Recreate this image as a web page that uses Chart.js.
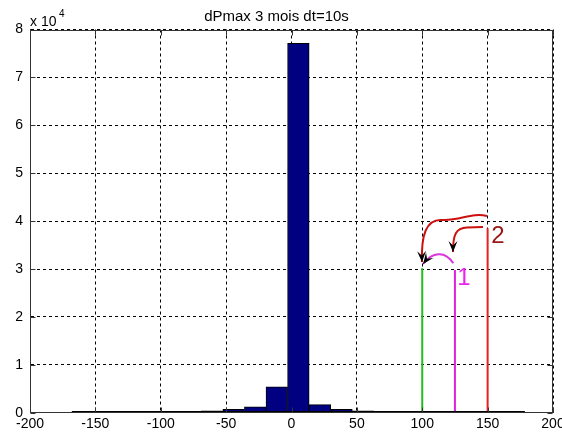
<!DOCTYPE html>
<html><head><meta charset="utf-8">
<script src="https://cdn.jsdelivr.net/npm/chart.js@4/dist/chart.umd.min.js"></script>
<style>html,body{margin:0;padding:0;background:#fff;overflow:hidden}</style>
</head><body>
<canvas id="c" width="562" height="437"></canvas>
<script>
// ---- data ----
const binCenters = [-159.75,-143.25,-126.75,-110.25,-93.75,-77.25,-60.75,-44.25,-27.75,-11.25,5.25,21.75,38.25,54.75,71.25,87.75,104.25,120.75,137.25,153.75,170.25];
const binCounts  = [60,40,50,70,100,180,400,700,1200,5400,77100,1700,700,400,180,110,80,60,50,40,60];
const xTickStep = 50;
const yTickStep = 10000;
const titleText = 'dPmax 3 mois dt=10s';
const markerX    = [100, 125, 150];
const markerTop  = [30150, 29800, 38500];
const markerColors = ['#22bb22', '#dd22dd', '#e82020'];

// annotation paths (data units): start point then cubic segments [c1, c2, end]
const arrowPaths = [
  { color:'#dd33dd', start:[123.75,31190], segs:[[[117.4,33966],[107.5,33549],[100.6,31044]]] },
  { color:'#cc1111', start:[149.5,41066], segs:[[[138.0,41901],[128.9,40022],[115.1,40230]],[[102.9,40439],[99.1,37099],[99.8,31462]]] },
  { color:'#cc1111', start:[146.5,38769], segs:[[[140,38700],[134.2,38665],[134.2,38665]],[[125.8,38560],[123.5,37307],[123.5,33550]]] }
];
const annoLabels = [
  { text:'1', x:131.9, y:28101, color:'#ee22ee' },
  { text:'2', x:157.9, y:36744, color:'#991515' }
];

const FONT = 'Liberation Sans, Arial, sans-serif';

const barData = binCenters.map((x,i)=>({x, y: binCounts[i]}));
const markerSets = markerX.map((x,i)=>({
  type:'line', data:[{x, y:0},{x, y:markerTop[i]}],
  borderColor: markerColors[i], borderWidth:2, pointRadius:0, fill:false, tension:0
}));

const decor = {
  id:'decor',
  afterDatasetsDraw(chart){
    const ctx = chart.ctx, xs = chart.scales.x, ys = chart.scales.y;
    const P = (p)=>[xs.getPixelForValue(p[0]), ys.getPixelForValue(p[1])];
    ctx.save();
    // dark baseline under the histogram's thin tail bins
    const b0 = binCenters[0] - (binCenters[1]-binCenters[0])/2;
    const b1 = binCenters[binCenters.length-1] + (binCenters[1]-binCenters[0])/2;
    ctx.strokeStyle='#000'; ctx.lineWidth=1.5;
    ctx.beginPath();
    const yb = ys.getPixelForValue(0)-1;
    ctx.moveTo(xs.getPixelForValue(b0), yb); ctx.lineTo(xs.getPixelForValue(b1), yb); ctx.stroke();
    // arrows
    arrowPaths.forEach(ap=>{
      ctx.beginPath();
      let s = P(ap.start); ctx.moveTo(s[0], s[1]);
      let lastC = s, end = s;
      ap.segs.forEach(sg=>{
        const c1=P(sg[0]), c2=P(sg[1]), e=P(sg[2]);
        ctx.bezierCurveTo(c1[0],c1[1],c2[0],c2[1],e[0],e[1]);
        lastC = c2; end = e;
      });
      ctx.strokeStyle = ap.color; ctx.lineWidth = 2; ctx.stroke();
      let dx = end[0]-lastC[0], dy = end[1]-lastC[1];
      const len = Math.hypot(dx,dy)||1; dx/=len; dy/=len;
      const nx=-dy, ny=dx, L=11, W=4.5;
      ctx.beginPath();
      ctx.moveTo(end[0],end[1]);
      ctx.lineTo(end[0]-L*dx+W*nx, end[1]-L*dy+W*ny);
      ctx.lineTo(end[0]-0.6*L*dx, end[1]-0.6*L*dy);
      ctx.lineTo(end[0]-L*dx-W*nx, end[1]-L*dy-W*ny);
      ctx.closePath(); ctx.fillStyle='#000'; ctx.fill();
    });
    annoLabels.forEach(l=>{
      const p = P([l.x,l.y]);
      ctx.fillStyle = l.color; ctx.font = '24px '+FONT;
      ctx.textAlign='center'; ctx.textBaseline='middle';
      ctx.fillText(l.text, p[0], p[1]);
    });
    ctx.restore();
  },
  afterDraw(chart){
    const ctx = chart.ctx, a = chart.chartArea, xs = chart.scales.x, ys = chart.scales.y;
    ctx.save();
    ctx.strokeStyle = '#333'; ctx.lineWidth = 1;
    const L = Math.round(a.left)+0.5, R = Math.round(a.right)-0.5, T = Math.round(a.top)+0.5, B = Math.round(a.bottom)-0.5;
    ctx.strokeRect(L, T, R-L, B-T);
    ctx.beginPath();
    xs.ticks.forEach(t=>{ const x = Math.round(xs.getPixelForValue(t.value))+0.5;
      ctx.moveTo(x,T); ctx.lineTo(x,T+5); ctx.moveTo(x,B); ctx.lineTo(x,B-5); });
    ys.ticks.forEach(t=>{ const y = Math.round(ys.getPixelForValue(t.value))+0.5;
      ctx.moveTo(L,y); ctx.lineTo(L+5,y); ctx.moveTo(R,y); ctx.lineTo(R-5,y); });
    ctx.stroke();
    ctx.fillStyle='#000'; ctx.textAlign='left'; ctx.textBaseline='alphabetic';
    ctx.font = '14px '+FONT; ctx.fillText('x 10', 30, 26);
    ctx.font = '10px '+FONT; ctx.fillText('4', 59, 17);
    ctx.restore();
  }
};

new Chart(document.getElementById('c'), {
  type:'bar',
  data:{ datasets:[
    { type:'bar', data: barData, backgroundColor:'#000080', borderColor:'#000', borderWidth:1,
      borderSkipped:false, categoryPercentage:1.0, barPercentage:1.0, grouped:false },
    ...markerSets
  ]},
  options:{
    responsive:false, animation:false, devicePixelRatio:1,
    layout:{ padding:{ left:0, right:9, top:0, bottom:0 } },
    plugins:{
      legend:{display:false}, tooltip:{enabled:false},
      title:{ display:true, text:titleText, color:'#000',
        font:{ family:FONT, size:15, weight:'normal' }, padding:{ top:8, bottom:3.5 } }
    },
    scales:{
      x:{ type:'linear', min:-200, max:200, offset:false,
        ticks:{ stepSize:xTickStep, color:'#000', font:{family:FONT, size:14}, padding:3, maxRotation:0, autoSkip:false },
        grid:{ color:'#000', drawTicks:false, lineWidth:1, offset:false },
        border:{ display:true, color:'#333', width:1, dash:[3,3] },
        afterFit(s){ s.height = 24.3; s.paddingLeft = 0; s.paddingRight = 0; } },
      y:{ type:'linear', min:0, max:80000,
        ticks:{ stepSize:yTickStep, color:'#000', font:{family:FONT, size:14}, padding:7,
          callback:v=>String(v/10000) },
        grid:{ color:'#000', drawTicks:false, lineWidth:1, offset:false },
        border:{ display:true, color:'#333', width:1, dash:[3,3] },
        afterFit(s){ s.width = 30; s.paddingTop = 0; s.paddingBottom = 0; } }
    }
  },
  plugins:[decor]
});
</script>
</body></html>
